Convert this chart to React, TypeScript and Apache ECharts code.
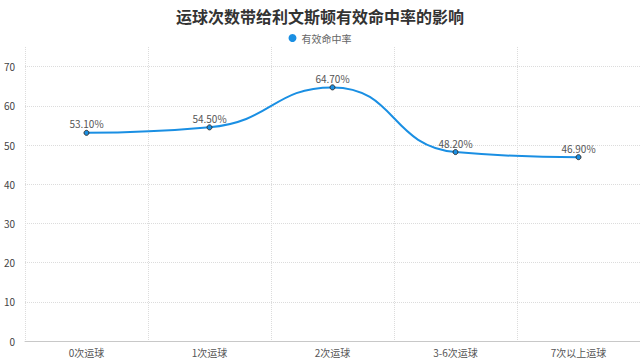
import React, { useEffect, useRef } from "react";
import * as echarts from "echarts";

const categories = ["0次运球", "1次运球", "2次运球", "3-6次运球", "7次以上运球"];
const values = [53.1, 54.5, 64.7, 48.2, 46.9];
const seriesName = "有效命中率";
const titleText = "运球次数带给利文斯顿有效命中率的影响";

export default function App() {
  const ref = useRef<HTMLDivElement>(null);
  useEffect(() => {
    if (!ref.current) return;
    const chart = echarts.init(ref.current, undefined, { renderer: "svg" });
    const font = "'Noto Sans CJK SC', 'Microsoft YaHei', sans-serif";
    chart.setOption({
      animation: false,
      backgroundColor: "#ffffff",
      title: {
        text: titleText,
        left: "center",
        top: 3,
        textStyle: { fontSize: 16, fontWeight: "bold", color: "#333", fontFamily: font },
      },
      legend: {
        data: [seriesName],
        top: 28,
        left: "center",
        icon: "circle",
        itemWidth: 8,
        itemHeight: 8,
        itemGap: 4,
        itemStyle: { borderWidth: 0 },
        textStyle: { fontSize: 10, color: "#666", fontFamily: font },
      },
      grid: { left: 25, right: 0, top: 47, bottom: 23, containLabel: false },
      xAxis: {
        type: "category",
        data: categories,
        boundaryGap: true,
        axisLine: { lineStyle: { color: "#c8c8c8" } },
        axisTick: { alignWithLabel: true, lineStyle: { color: "#c8c8c8" } },
        axisLabel: { fontSize: 10, color: "#555", fontFamily: font, margin: 6 },
        splitLine: { show: true, lineStyle: { type: "dotted", color: "#dcdcdc" } },
      },
      yAxis: {
        type: "value",
        min: 0,
        max: 75,
        interval: 10,
        axisLine: { show: false },
        axisTick: { show: false },
        axisLabel: { fontSize: 10, color: "#444", fontFamily: font, showMaxLabel: false, margin: 10 },
        splitLine: { show: true, showMaxLine: false, lineStyle: { type: "dotted", color: "#dcdcdc" } },
      },
      series: [
        {
          name: seriesName,
          type: "line",
          data: values,
          smooth: true,
          symbol: "circle",
          symbolSize: 5,
          lineStyle: { color: "#1a8fe3", width: 2 },
          itemStyle: { color: "#1a8fe3", borderColor: "#333", borderWidth: 1 },
          label: {
            show: true,
            position: "top",
            distance: 1,
            formatter: (p: any) => p.value.toFixed(2) + "%",
            fontSize: 10,
            color: "#555",
            fontFamily: font,
          },
        },
      ],
    });
    return () => chart.dispose();
  }, []);
  return <div ref={ref} style={{ position: "fixed", left: 0, top: 0, width: 640, height: 364 }} />;
}
